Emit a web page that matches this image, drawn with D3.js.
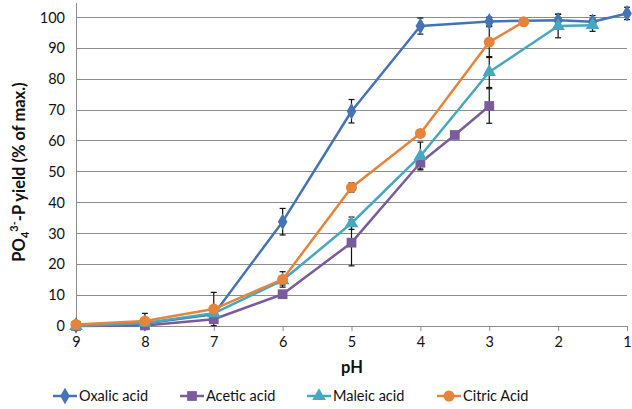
<!DOCTYPE html>
<html><head><meta charset="utf-8">
<script src="https://cdn.jsdelivr.net/npm/d3@7"></script>
<style>body{margin:0;background:#fff}svg{display:block}text{font-family:Lato,"Open Sans",sans-serif;fill:#111}</style>
</head><body><svg id="c" width="632" height="409"></svg>
<script>
const xTicks = [9,8,7,6,5,4,3,2,1];
const yTicks = [0,10,20,30,40,50,60,70,80,90,100];

const oxalicPH  = [9,8,7,6,5,4,3,2,1.5,1];
const oxalicVal = [0.2,0.8,3.8,33.8,69.6,97.2,98.7,99.1,98.6,101.3];
const oxalicErr = [0,0,0,4.3,3.8,2.6,1.4,2,2,2];

const aceticPH  = [9,8,7,6,5,4,3.5,3];
const aceticVal = [0,0.2,2.2,10.3,27.0,52.9,61.9,71.3];
const aceticErr = [0,0,0,0,7.5,2,0,5.6];

const maleicPH  = [9,8,7,6,5,4,3,2,1.5];
const maleicVal = [0,1.0,4.1,14.8,33.3,55.1,82.3,97.2,97.5];
const maleicErr = [0,0,0,1.5,2,4.5,5,3.8,2];

const citricPH  = [9,8,7,6,5,4,3,2.5];
const citricVal = [0.5,1.6,5.5,15.1,44.9,62.4,92.0,98.6];
const citricErr = [0,2.5,5.4,2.5,1.5,0,5,0];

const series = [
  {name:"Oxalic acid", ph:oxalicPH, v:oxalicVal, e:oxalicErr, color:"#4474B6", sym:d3.symbolDiamond, size:80},
  {name:"Acetic acid", ph:aceticPH, v:aceticVal, e:aceticErr, color:"#7A5C9E", sym:d3.symbolSquare, size:95},
  {name:"Maleic acid", ph:maleicPH, v:maleicVal, e:maleicErr, color:"#46A8C0", sym:d3.symbolTriangle, size:80},
  {name:"Citric Acid", ph:citricPH, v:citricVal, e:citricErr, color:"#E5853B", sym:d3.symbolCircle, size:95}
];

const svg = d3.select("#c");
const x = d3.scaleLinear().domain([9,1]).range([76,627]);
const y = d3.scaleLinear().domain([0,105]).range([326,2]);

svg.append("g").selectAll("line").data(yTicks.filter(d=>d>0)).join("line")
  .attr("x1",76).attr("x2",627).attr("y1",d=>y(d)).attr("y2",d=>y(d))
  .attr("stroke","#8c8c8c").attr("stroke-width",1).attr("shape-rendering","crispEdges");

const yAxis = svg.append("g").attr("transform","translate(76,0)")
  .call(d3.axisLeft(y).tickValues(yTicks).tickSize(0).tickPadding(11));
yAxis.select(".domain").attr("stroke","#8c8c8c").attr("shape-rendering","crispEdges");
yAxis.selectAll("text").attr("font-size",14.5).attr("fill","#111").attr("font-family","Lato,'Open Sans',sans-serif");

const xAxis = svg.append("g").attr("transform","translate(0,326)")
  .call(d3.axisBottom(x).tickValues(xTicks).tickSize(5).tickSizeOuter(0).tickPadding(6));
xAxis.select(".domain").attr("stroke","#8c8c8c").attr("shape-rendering","crispEdges");
xAxis.selectAll("line").attr("stroke","#8c8c8c");
xAxis.selectAll("text").attr("font-size",14.5).attr("fill","#111").attr("font-family","Lato,'Open Sans',sans-serif");

series.forEach(s=>{
  const g = svg.append("g");
  s.ph.forEach((p,i)=>{
    const e = s.e[i]; if(!e) return;
    const cx = x(p), t = y(s.v[i]+e), b = y(s.v[i]-e);
    g.append("line").attr("x1",cx).attr("x2",cx).attr("y1",t).attr("y2",b).attr("stroke","#111").attr("stroke-width",1.2);
    [t,b].forEach(yy=>g.append("line").attr("x1",cx-3).attr("x2",cx+3).attr("y1",yy).attr("y2",yy).attr("stroke","#111").attr("stroke-width",1.2));
  });
});

const line = d3.line().x(d=>x(d[0])).y(d=>y(d[1]));
series.forEach(s=>{
  const pts = s.ph.map((p,i)=>[p,s.v[i]]);
  svg.append("path").datum(pts).attr("d",line).attr("fill","none")
    .attr("stroke",s.color).attr("stroke-width",2.5).attr("stroke-linejoin","round");
  svg.append("g").selectAll("path").data(pts).join("path")
    .attr("d",d3.symbol().type(s.sym).size(s.size))
    .attr("transform",d=>`translate(${x(d[0])},${y(d[1])})`)
    .attr("fill",s.color);
});

svg.append("text").attr("x",352).attr("y",373).attr("text-anchor","middle")
  .attr("font-weight","bold").attr("font-size",16.5).text("pH");
const yt = svg.append("text").attr("transform","translate(25,172) rotate(-90)")
  .attr("text-anchor","middle").attr("font-weight","bold").attr("font-size",16.5);
yt.append("tspan").text("PO");
yt.append("tspan").attr("font-size",11).attr("dy",4).text("4");
yt.append("tspan").attr("font-size",11).attr("dy",-11).text("3-");
yt.append("tspan").attr("dy",7).text("-P yield (% of max.)");

const legX = [53,180,307,437];
series.forEach((s,i)=>{
  const g = svg.append("g").attr("transform",`translate(${legX[i]},396)`);
  g.append("line").attr("x1",0).attr("x2",24).attr("stroke",s.color).attr("stroke-width",2.5);
  g.append("path").attr("d",d3.symbol().type(s.sym).size(s.size)).attr("transform","translate(12,0)").attr("fill",s.color);
  g.append("text").attr("x",26).attr("y",5).attr("font-size",14.5).text(s.name);
});
</script></body></html>
